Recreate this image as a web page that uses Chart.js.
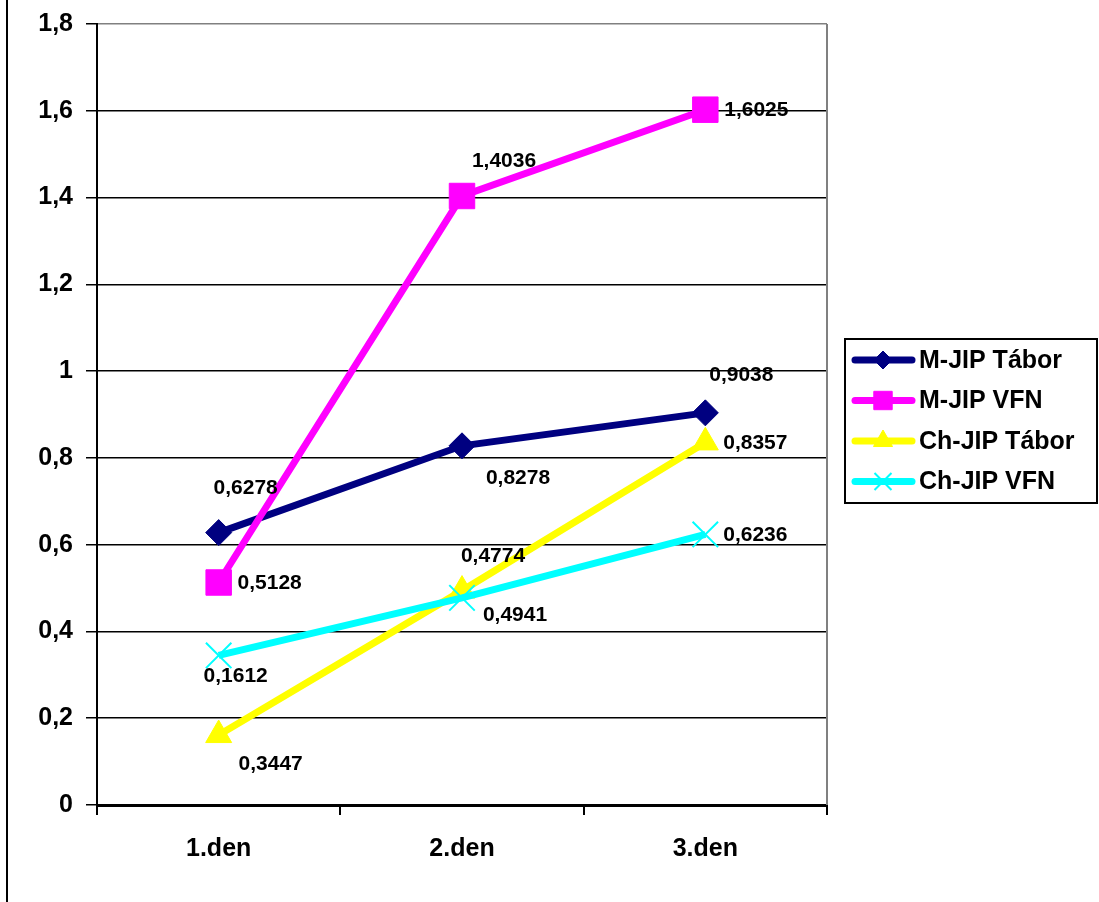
<!DOCTYPE html>
<html>
<head>
<meta charset="utf-8">
<script src="https://cdn.jsdelivr.net/npm/chart.js@4/dist/chart.umd.min.js"></script>
<style>
  html, body { margin: 0; padding: 0; background: #fff; }
  #graf { display: block; }
</style>
</head>
<body>
<canvas id="graf" width="1099" height="902"></canvas>
<script>
// Kategorien (Tage) und Messwerte der vier Reihen
const dny = ['1.den', '2.den', '3.den'];
const mJipTabor = [0.6278, 0.8278, 0.9038];
const mJipVfn = [0.5128, 1.4036, 1.6025];
const chJipTabor = [0.1612, 0.4941, 0.8357];
const chJipVfn = [0.3447, 0.4774, 0.6236];

const FONT = '"Liberation Sans", Arial, sans-serif';

// Versatz der Wertbeschriftung relativ zum Punkt (dx, dy in Pixel)
const labelOffsets = [
    [[27, -44], [56, 32], [36, -38]],
    [[51, 1], [42, -35], [51, 1]],
    [[17, -59], [53, 25], [50, 1]],
    [[52, 109], [31, -42], [50, 1]]
];

function fmt(v, digits) {
    return Number(v.toFixed(digits)).toString().replace('.', ',');
}

// weißer Hintergrund, linke Rahmenlinie, rechter grauer Rand der Zeichenfläche
const rahmenPlugin = {
    id: 'rahmen',
    beforeDraw(chart) {
        const ctx = chart.ctx;
        ctx.save();
        ctx.fillStyle = '#fff';
        ctx.fillRect(0, 0, chart.width, chart.height);
        ctx.restore();
    },
    beforeDatasetsDraw(chart) {
        const ctx = chart.ctx;
        const a = chart.chartArea;
        ctx.save();
        ctx.strokeStyle = '#808080';
        ctx.lineWidth = 2;
        ctx.beginPath();
        ctx.moveTo(a.right, a.top);
        ctx.lineTo(a.right, a.bottom);
        ctx.stroke();
        ctx.strokeStyle = '#000';
        ctx.beginPath();
        ctx.moveTo(7, 0);
        ctx.lineTo(7, chart.height);
        ctx.stroke();
        ctx.restore();
    }
};

// Wertbeschriftungen neben den Punkten
const wertePlugin = {
    id: 'werte',
    afterDatasetsDraw(chart) {
        const ctx = chart.ctx;
        ctx.save();
        ctx.font = 'bold 21px ' + FONT;
        ctx.fillStyle = '#000';
        ctx.textAlign = 'center';
        ctx.textBaseline = 'middle';
        chart.data.datasets.forEach((ds, i) => {
            const meta = chart.getDatasetMeta(i);
            meta.data.forEach((pt, j) => {
                const off = labelOffsets[i][j];
                ctx.fillText(fmt(ds.data[j], 4), pt.x + off[0], pt.y + off[1]);
            });
        });
        ctx.restore();
    }
};

// Legende rechts mit Linie und Markierung
const legendePlugin = {
    id: 'legende',
    afterDraw(chart) {
        const ctx = chart.ctx;
        const box = { x: 845, y: 339, w: 252, h: 164 };
        ctx.save();
        ctx.strokeStyle = '#000';
        ctx.lineWidth = 2;
        ctx.strokeRect(box.x, box.y, box.w, box.h);
        ctx.font = 'bold 25px ' + FONT;
        ctx.textBaseline = 'middle';
        ctx.textAlign = 'left';
        chart.data.datasets.forEach((ds, i) => {
            const y = 360 + i * 40.5;
            ctx.strokeStyle = ds.borderColor;
            ctx.lineWidth = 7;
            ctx.lineCap = 'round';
            ctx.beginPath();
            ctx.moveTo(855, y);
            ctx.lineTo(912, y);
            ctx.stroke();
            ctx.lineCap = 'butt';
            ctx.fillStyle = ds.borderColor;
            ctx.lineWidth = ds.pointBorderWidth;
            Chart.helpers.drawPoint(ctx, {
                pointStyle: ds.pointStyle,
                radius: ds.legendRadius,
                borderWidth: ds.pointBorderWidth
            }, 883, y);
            ctx.fillStyle = '#000';
            ctx.fillText(ds.label, 919, y + 1);
        });
        ctx.restore();
    }
};

function reihe(label, data, color, style, radius, legendRadius, order, bw) {
    return {
        label: label,
        data: data,
        borderColor: color,
        backgroundColor: color,
        borderWidth: 7,
        pointStyle: style,
        pointRadius: radius,
        pointHoverRadius: radius,
        pointBackgroundColor: color,
        pointBorderColor: color,
        pointBorderWidth: bw,
        legendRadius: legendRadius,
        tension: 0,
        order: order
    };
}

new Chart(document.getElementById('graf'), {
    type: 'line',
    data: {
        labels: dny,
        datasets: [
            reihe('M-JIP Tábor', mJipTabor, '#000080', 'rectRot', 13, 9, 4, 1),
            reihe('M-JIP VFN', mJipVfn, '#FF00FF', 'rect', 18, 13, 3, 1),
            reihe('Ch-JIP Tábor', chJipTabor, '#FFFF00', 'triangle', 15, 11, 2, 1),
            reihe('Ch-JIP VFN', chJipVfn, '#00FFFF', 'crossRot', 18, 12, 1, 2)
        ]
    },
    options: {
        responsive: false,
        animation: false,
        layout: { padding: { left: 0, right: 272, top: 24, bottom: 0 } },
        plugins: {
            legend: { display: false },
            tooltip: { enabled: false }
        },
        scales: {
            x: {
                offset: true,
                afterFit(scale) { scale.height = 97; },
                grid: {
                    offset: true,
                    drawOnChartArea: false,
                    drawTicks: true,
                    tickLength: 10,
                    color: '#000',
                    lineWidth: 2
                },
                border: { color: '#000', width: 3 },
                ticks: {
                    color: '#000',
                    padding: 19,
                    font: { family: FONT, size: 25, weight: 'bold' }
                }
            },
            y: {
                min: 0,
                max: 1.8,
                afterFit(scale) {
                    scale.width = 97;
                    scale.paddingTop = 0;
                    scale.paddingBottom = 0;
                },
                grid: {
                    color: ctx => (ctx.tick && ctx.tick.value >= 1.79 ? '#808080' : '#000'),
                    lineWidth: 1.5,
                    tickLength: 11,
                    tickColor: '#000'
                },
                border: { color: '#000', width: 2 },
                ticks: {
                    stepSize: 0.2,
                    color: '#000',
                    padding: 13,
                    font: { family: FONT, size: 25, weight: 'bold' },
                    callback: v => fmt(v, 1)
                }
            }
        }
    },
    plugins: [rahmenPlugin, wertePlugin, legendePlugin]
});
</script>
</body>
</html>
